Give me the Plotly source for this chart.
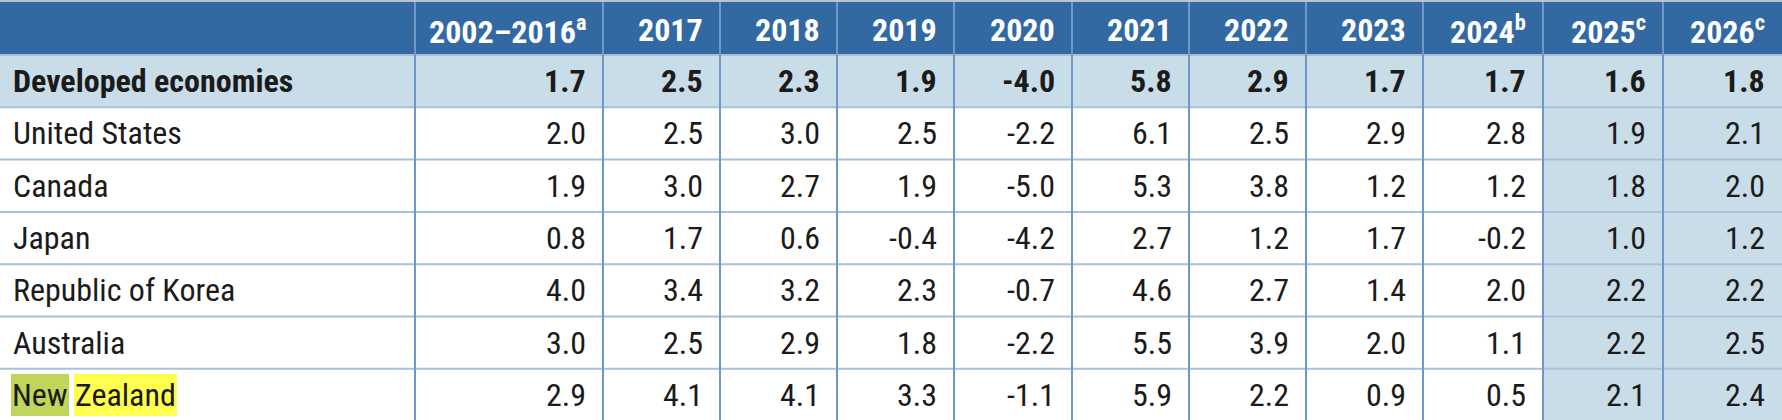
import plotly.graph_objects as go

# ---------------- data ----------------
columns = ["2002–2016<sup>a</sup>", "2017", "2018", "2019", "2020", "2021", "2022",
           "2023", "2024<sup>b</sup>", "2025<sup>c</sup>", "2026<sup>c</sup>"]
regions = ["Developed economies", "United States", "Canada", "Japan",
           "Republic of Korea", "Australia", "New Zealand"]

developed = [1.7, 2.5, 2.3, 1.9, -4.0, 5.8, 2.9, 1.7, 1.7, 1.6, 1.8]
united_states = [2.0, 2.5, 3.0, 2.5, -2.2, 6.1, 2.5, 2.9, 2.8, 1.9, 2.1]
canada = [1.9, 3.0, 2.7, 1.9, -5.0, 5.3, 3.8, 1.2, 1.2, 1.8, 2.0]
japan = [0.8, 1.7, 0.6, -0.4, -4.2, 2.7, 1.2, 1.7, -0.2, 1.0, 1.2]
korea = [4.0, 3.4, 3.2, 2.3, -0.7, 4.6, 2.7, 1.4, 2.0, 2.2, 2.2]
australia = [3.0, 2.5, 2.9, 1.8, -2.2, 5.5, 3.9, 2.0, 1.1, 2.2, 2.5]
new_zealand = [2.9, 4.1, 4.1, 3.3, -1.1, 5.9, 2.2, 0.9, 0.5, 2.1, 2.4]
values = [developed, united_states, canada, japan, korea, australia, new_zealand]
forecast_cols = 2   # last two columns are forecasts (shaded)

# ---------------- layout / style ----------------
W, H = 1782, 420
col_edges = [0, 415, 603, 720, 837, 954, 1072, 1189, 1306, 1423, 1543, 1663, 1782]
top = 2
header_h = 53
row_h = 52.3
row_edges = [top, top + header_h] + [top + header_h + row_h * (i + 1) for i in range(len(regions))]

HEADER_BLUE = "#3369a3"
LIGHT_BLUE = "#c9dde9"
VLINE = "#6f98c8"
HLINE = "#a9c0d9"
TOPLINE = "#b7c4d2"
TEXT = "#1b1b1b"
FONT = "Roboto Condensed, Liberation Sans Narrow, Arial Narrow, Roboto, sans-serif"
PAD = 15
BODY_SIZE = 32
HEAD_SIZE = 32

fig = go.Figure()
fig.add_trace(go.Scatter(x=[0, W], y=[0, H], mode="markers",
                         marker=dict(opacity=0), hoverinfo="skip", showlegend=False))

shapes = []
shapes.append(dict(type="rect", xref="x", yref="y", x0=0, x1=W, y0=row_edges[0], y1=row_edges[1],
                   fillcolor=HEADER_BLUE, line=dict(width=0), layer="below"))
shapes.append(dict(type="rect", xref="x", yref="y", x0=0, x1=W, y0=row_edges[1], y1=row_edges[2],
                   fillcolor=LIGHT_BLUE, line=dict(width=0), layer="below"))
shapes.append(dict(type="rect", xref="x", yref="y", x0=col_edges[-1 - forecast_cols], x1=W,
                   y0=row_edges[2], y1=H + 5,
                   fillcolor=LIGHT_BLUE, line=dict(width=0), layer="below"))
shapes.append(dict(type="line", xref="x", yref="y", x0=0, x1=W, y0=1, y1=1,
                   line=dict(color=TOPLINE, width=2)))
for y in row_edges[1:-1]:
    shapes.append(dict(type="line", xref="x", yref="y", x0=0, x1=W, y0=y, y1=y,
                       line=dict(color=HLINE, width=2)))
for x in col_edges[1:-1]:
    shapes.append(dict(type="line", xref="x", yref="y", x0=x, x1=x, y0=row_edges[0], y1=H + 5,
                       line=dict(color=VLINE, width=2)))

annotations = []
for j, c in enumerate(columns):
    annotations.append(dict(x=col_edges[j + 2] - PAD, y=(row_edges[0] + row_edges[1]) / 2 + 1,
                            xref="x", yref="y", xanchor="right", yanchor="middle",
                            text=f"<b>{c}</b>", showarrow=False,
                            font=dict(family=FONT, size=HEAD_SIZE, color="white")))
for i, (name, vals) in enumerate(zip(regions, values)):
    yc = (row_edges[i + 1] + row_edges[i + 2]) / 2
    bold = i == 0
    if name == "New Zealand":
        words = name.split(" ")
        word_x = [11, 73.5]
        word_bg = ["#bfd65a", "#ffff50"]
        for w, wx, bg in zip(words, word_x, word_bg):
            annotations.append(dict(x=wx, y=yc, xref="x", yref="y", xanchor="left", yanchor="middle",
                                    text=w, showarrow=False, bgcolor=bg, borderpad=1, borderwidth=0,
                                    height=40,
                                    font=dict(family=FONT, size=BODY_SIZE, color=TEXT)))
    else:
        annotations.append(dict(x=11, y=yc, xref="x", yref="y", xanchor="left", yanchor="middle",
                                text=f"<b>{name}</b>" if bold else name, showarrow=False,
                                font=dict(family=FONT, size=BODY_SIZE, color=TEXT)))
    for j, v in enumerate(vals):
        s = f"{v:.1f}"
        annotations.append(dict(x=col_edges[j + 2] - PAD, y=yc, xref="x", yref="y",
                                xanchor="right", yanchor="middle",
                                text=f"<b>{s}</b>" if bold else s, showarrow=False,
                                font=dict(family=FONT, size=BODY_SIZE, color=TEXT)))

fig.update_layout(
    width=W, height=H,
    margin=dict(l=0, r=0, t=0, b=0),
    paper_bgcolor="white", plot_bgcolor="white",
    xaxis=dict(range=[0, W], visible=False, fixedrange=True),
    yaxis=dict(range=[H, 0], visible=False, fixedrange=True),
    shapes=shapes, annotations=annotations, showlegend=False,
)

fig.write_html("out.html", config={"displayModeBar": False},
               post_script="document.body.style.margin='0';document.body.style.overflow='hidden';")
